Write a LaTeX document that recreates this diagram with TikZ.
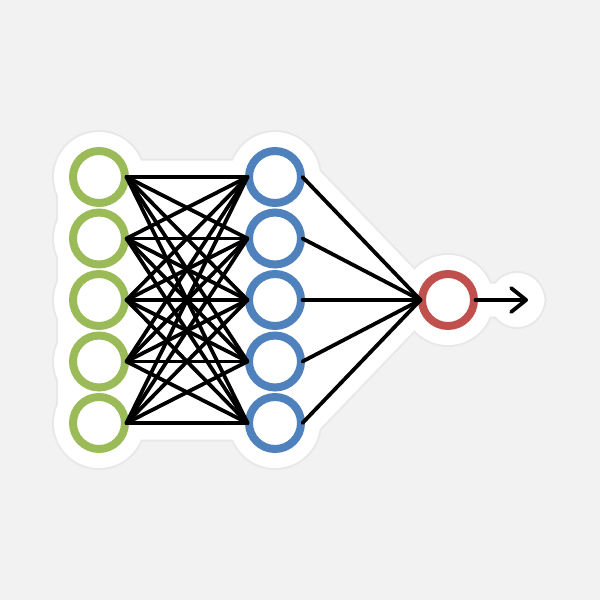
\documentclass[tikz,border=0pt]{standalone}
\usetikzlibrary{arrows.meta,backgrounds}
\definecolor{paper}{HTML}{F2F2F2}
\definecolor{ingreen}{HTML}{9BBB59}
\definecolor{hidblue}{HTML}{4F81BD}
\definecolor{outred}{HTML}{C0504D}
\tikzset{neuron/.style={circle,draw=#1,line width=8pt,minimum size=52pt,inner sep=0pt,outer sep=1.5pt,fill=white},
link/.style={line width=3.8pt,line cap=round}}
\begin{document}
\begin{tikzpicture}[x=1pt,y=-1pt]
\useasboundingbox(0,0)rectangle(600,600);
\foreach \k in {1,...,5}{
\node[neuron=ingreen](i\k)at(99,115.5+61.5*\k){};
\node[neuron=hidblue](h\k)at(275,115.5+61.5*\k){};
}
\node[neuron=outred](o)at(448,300){};
\coordinate(out)at(528,300);
%
\foreach \a in {1,...,5}{
\foreach \b in {1,...,5}\draw[link](i\a.east)--(h\b.west);
\draw[link](h\a.east)--(o.west);
}
\draw[link,-{Straight Barb[length=15pt,width=24pt,round]}](o.east)--(out);
%
\begin{scope}[on background layer]
\fill[paper](0,0)rectangle(600,600);
\foreach \c/\m/\s in {black!9/17/1.5,white/15/0}{
\begin{scope}[\c,yshift=-\s pt,line join=round,line cap=round]
\filldraw[line width={(2*\m+3)*1pt}](i1.center)--(h1.east)--(o.west)--(h5.east)--(i5.center)--cycle (o.west)--(out);
\draw[line width={(2*\m+52)*1pt}](i1.center)--(i5.center);
\foreach \k in {1,...,5}\fill(i\k)circle[radius=30+\m](h\k)circle[radius=30+\m];
\fill(o)circle[radius=30+\m](out)++(-11,0)circle[radius=12+\m];
\end{scope}}
\end{scope}
\end{tikzpicture}
\end{document}
